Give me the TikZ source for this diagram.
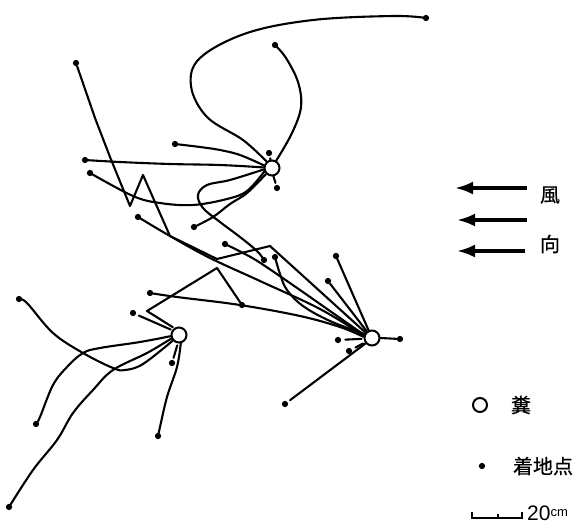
\documentclass[tikz,border=0pt]{standalone}
\usepackage{fontspec}
\setsansfont{Liberation Sans}
\newfontfamily\cjk[FakeBold=0.6]{Noto Sans CJK JP}
\usetikzlibrary{arrows.meta}
\begin{document}
\begin{tikzpicture}[x=1pt,y=-1pt,
  traj/.style={line width=2.1pt, line cap=round, line join=round},
  dung/.style={circle, draw, line width=2pt, minimum size=15pt, inner sep=0pt, fill=white},
  land/.style={circle, fill, minimum size=6.3pt, inner sep=0pt},
  wind/.style={line width=3.2pt, -{Latex[length=18pt,width=13pt]}},
  lbl/.style={font=\cjk\fontsize{20}{20}\selectfont, inner sep=0pt},
  sm/.style={smooth, tension=0.6}]
\useasboundingbox (0,0) rectangle (581,528);

% dung circles
\node[dung] (c1) at (272,168) {};
\node[dung] (c2) at (372,338) {};
\node[dung] (c3) at (179,335) {};

% landing points of c1
\node[land] (a1) at (426,18) {};
\node[land] (a2) at (275,45) {};
\node[land] (a3) at (269,153) {};
\node[land] (a4) at (175,144) {};
\node[land] (a5) at (85,160) {};
\node[land] (a6) at (90,173) {};
\node[land] (a7) at (264,260) {};
\node[land] (a8) at (194,227) {};
\node[land] (a9) at (277,188) {};
% landing points of c2
\node[land] (b1) at (336,256) {};
\node[land] (b2) at (328,281) {};
\node[land] (b3) at (76,63) {};
\node[land] (b4) at (275,257) {};
\node[land] (b5) at (225,244) {};
\node[land] (b6) at (138,217) {};
\node[land] (b7) at (150,293) {};
\node[land] (b8) at (400,339) {};
\node[land] (b9) at (338,340) {};
\node[land] (b10) at (349,351) {};
\node[land] (b11) at (285,404) {};
% landing points of c3
\node[land] (e1) at (242,305) {};
\node[land] (e2) at (133,313) {};
\node[land] (e3) at (19,299) {};
\node[land] (e4) at (36,424) {};
\node[land] (e5) at (9,507) {};
\node[land] (e6) at (158,436) {};
\node[land] (e7) at (172,363) {};

% trajectories from c1
\draw[traj] plot[sm] coordinates {(c1.130) (243,140) (207,117) (191,86) (200,58) (247,33) (313,20) (393,16) (a1)};
\draw[traj] plot[sm] coordinates {(c1.60) (292,133) (301,107) (298,82) (286,58) (a2)};
\draw[traj, shorten <=2pt] (a3) -- (c1.100);
\draw[traj] plot[sm] coordinates {(c1.162) (240,155) (220,150) (200,147) (a4)};
\draw[traj] plot[sm] coordinates {(c1.176) (220,165) (170,164) (120,162) (a5)};
\draw[traj] plot[sm] coordinates {(c1.190) (230,180) (207,185) (198,195) (203,208) (220,222) (240,237) (257,251) (a7)};
\draw[traj] plot[sm] coordinates {(c1.205) (247,191) (227,199) (193,205) (160,203) (133,196) (a6)};
\draw[traj] plot[sm] coordinates {(c1.225) (247,193) (230,204) (213,217) (a8)};
\draw[traj, shorten <=2pt] (a9) -- (c1.280);

% trajectories to c2
\draw[traj] (b1) -- (c2.114);
\draw[traj] (b2) -- (c2.128);
\draw[traj] (b3) -- (95,118) -- (110,157) -- (130,206) -- (143,175) -- (170,236) -- (217,259) -- (270,246) -- (c2.140);
\draw[traj] plot[sm] coordinates {(b4) (280,274) (287,290) (303,306) (330,321) (c2.152)};
\draw[traj] plot[sm] coordinates {(b5) (245,254) (262,264) (300,290) (340,318) (c2.158)};
\draw[traj] plot[sm] coordinates {(b6) (170,236) (210,258) (260,281) (320,309) (c2.164)};
\draw[traj] plot[sm] coordinates {(b7) (177,297) (240,305) (300,316) (340,327) (c2.172)};
\draw[traj] (c2.0) -- (b8);
\draw[traj, shorten <=4pt, shorten >=2pt] (b9) -- (c2.185);
\draw[traj, shorten <=4pt, shorten >=2pt] (b10) -- (c2.212);
\draw[traj, shorten <=3pt] (b11) -- (c2.220);

% trajectories from c3
\draw[traj, shorten >=1.5pt] (e1) -- (217,268) -- (147,311) -- (c3.125);
\draw[traj, shorten <=3pt, shorten >=1.5pt] (e2) -- (c3.145);
\draw[traj] plot[sm] coordinates {(e3) (27,303) (53,333) (83,353) (113,368) (125,370) (143,364) (c3.222)};
\draw[traj] plot[sm] coordinates {(e4) (40,417) (53,385) (67,367) (83,353) (100,348) (140,342) (c3.188)};
\draw[traj] plot[sm] coordinates {(e5) (33,470) (57,440) (73,413) (93,390) (113,370) (147,353) (c3.205)};
\draw[traj] plot[sm] coordinates {(e6) (160,427) (167,397) (177,367) (c3.282)};
\draw[traj, shorten <=2pt, shorten >=2pt] (e7) -- (c3.262);

% wind direction
\coordinate (w1s) at (527,188); \coordinate (w1e) at (455,188);
\coordinate (w2s) at (527,220); \coordinate (w2e) at (457,220);
\coordinate (w3s) at (525,251); \coordinate (w3e) at (457,251);
\draw[wind] (w1s) -- (w1e);
\draw[wind] (w2s) -- (w2e);
\draw[wind] (w3s) -- (w3e);
\node[lbl] (k1) at (550,195) {風};
\node[lbl] (k2) at (550,244) {向};

% legend
\node[dung, minimum size=14pt] (lc) at (480,405) {};
\node[lbl] (lt1) at (521,405) {糞};
\node[land] (ld) at (482,466) {};
\node[lbl] (lt2) at (543,466) {着地点};
\draw[line width=1.3pt] (472,512) -- (472,518) -- (522,518) -- (522,512);
\draw[line width=1.3pt] (498,518) -- (498,514);
\node[anchor=base west, inner sep=0pt, font=\sffamily\fontsize{21}{21}\selectfont] (sc) at (527,520) {20\raisebox{4pt}{\fontsize{13}{13}\selectfont cm}};
\end{tikzpicture}
\end{document}
